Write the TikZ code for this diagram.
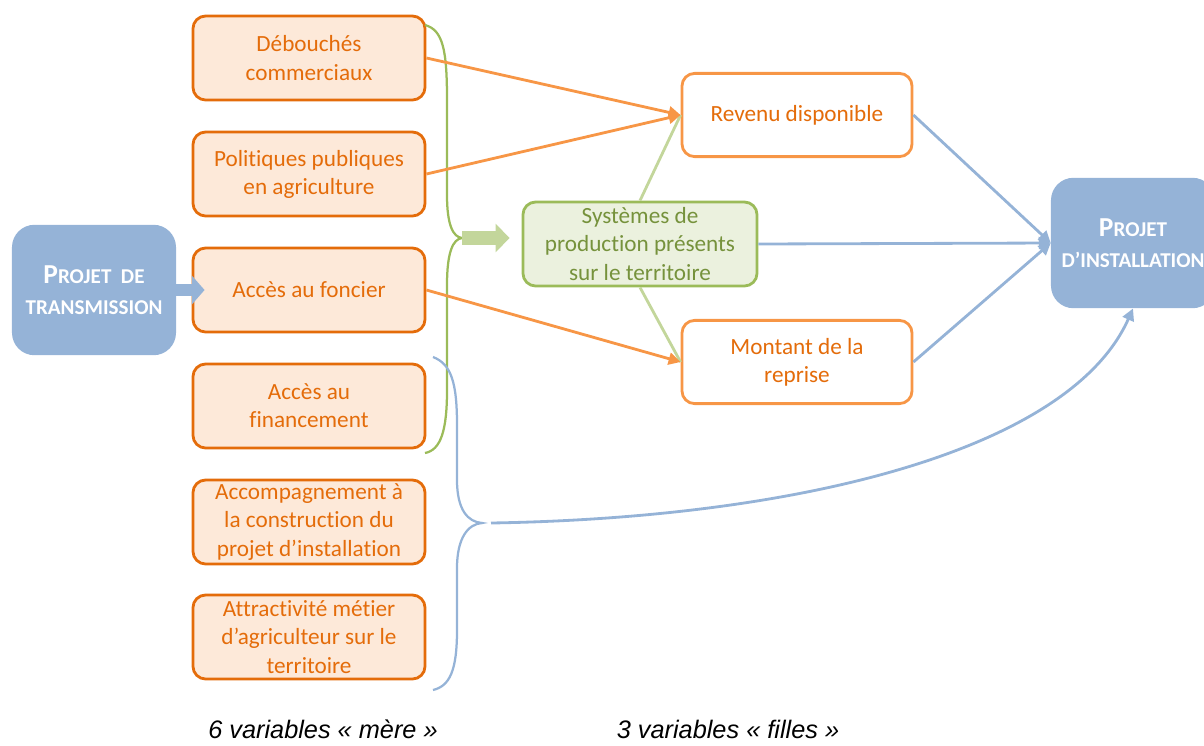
\documentclass[tikz,border=0pt]{standalone}
\usepackage{fontspec}
\setmainfont{Carlito}[Ligatures=NoCommon]
\newfontfamily\arialfont{Liberation Sans}
\usetikzlibrary{arrows.meta}
\definecolor{orfonce}{HTML}{E46C0A}
\definecolor{orclair}{HTML}{F79646}
\definecolor{orfond}{HTML}{FDE9D9}
\definecolor{bleu}{HTML}{95B3D7}
\definecolor{vert}{HTML}{9BBB59}
\definecolor{vertclair}{HTML}{C3D69B}
\definecolor{vertfond}{HTML}{EBF1DE}
\definecolor{vertfonce}{HTML}{76923C}
\newcommand\boxfont{\fontsize{16.5}{20}\selectfont}
\newcommand\petcap[1]{{\fontsize{15}{18}\selectfont #1}}
\tikzset{
  mere/.style={draw=orfonce, fill=orfond, line width=2pt, rounded corners=9pt,
    minimum width=5.8cm, minimum height=2.1cm, text=orfonce, align=center,
    font=\boxfont, inner sep=0pt},
  fille/.style={draw=orclair, fill=white, line width=2pt, rounded corners=9pt,
    minimum width=5.75cm, minimum height=2.08cm, text=orfonce, align=center,
    font=\boxfont, inner sep=0pt},
  projet/.style={fill=bleu, rounded corners=16pt, minimum width=4.1cm,
    minimum height=3.26cm, text=white, align=center,
    font=\bfseries\fontsize{19.5}{22.5}\selectfont, inner sep=0pt},
  fl/.style={line width=2pt, -{Triangle[length=8.5pt,width=8.5pt]}},
  legende/.style={font=\arialfont\itshape\fontsize{18}{21}\selectfont, inner sep=1pt}
}
\begin{document}
\begin{tikzpicture}[x=0.025cm, y=-0.025cm]
\useasboundingbox (0,0) rectangle (1204,745);
\clip (0,0) rectangle (1204,745);

% variables meres
\node[mere] (deb) at (309,58) {Débouchés\\commerciaux};
\node[mere] (pol) at (309,174) {Politiques publiques\\en agriculture};
\node[mere] (fonc) at (309,290) {Accès au foncier};
\node[mere] (fin) at (309,406) {Accès au\\financement};
\node[mere] (acc) at (309,522) {Accompagnement à\\la construction du\\projet d’installation};
\node[mere] (attr) at (309,637) {Attractivité métier\\d’agriculteur sur le\\territoire};

% projets
\node[projet] (trans) at (94,290) {P\petcap{ROJET~~DE}\\\petcap{TRANSMISSION}};
\node[projet] (inst) at (1133,243) {P\petcap{ROJET}\\\petcap{D’INSTALLATION}};

% variables filles
\node[fille] (rev) at (797,115) {Revenu disponible};
\node[fille] (mont) at (797,362) {Montant de la\\reprise};
\node[draw=vert, fill=vertfond, line width=2pt, rounded corners=9pt,
  minimum width=5.85cm, minimum height=2.1cm, text=vertfonce, align=center,
  font=\boxfont, inner sep=0pt] (sys) at (640,244)
  {Systèmes de\\production présents\\sur le territoire};

% accolades
\coordinate (gv) at (462,238);
\draw[vert, line width=1.6pt] (425,25) .. controls (443,30) and (447,50) .. (447,100)
  -- (447,195) .. controls (447,225) and (453,237) .. (gv)
  .. controls (453,239) and (447,252) .. (447,285)
  -- (447,390) .. controls (447,430) and (441,450) .. (425,453);
\coordinate (bl) at (482,523);
\draw[bleu, line width=1.6pt] (433,357) .. controls (451,364) and (457,382) .. (457,425)
  -- (457,480) .. controls (457,510) and (468,522) .. (bl)
  .. controls (468,524) and (457,538) .. (457,568)
  -- (457,630) .. controls (457,670) and (450,686) .. (433,690);

% grosses fleches
\draw[vertclair, line width=10pt, shorten >=0.3cm,
  -{Triangle[length=10pt,width=20pt]}] (gv) -- (gv -| sys.west);
\draw[bleu, line width=9pt, -{Triangle[length=9pt,width=20pt]}]
  (trans.east) -- ([xshift=13*0.025cm]fonc.west);

% liens
\draw[vertclair, line width=2pt] (sys.north) -- (rev.west);
\draw[vertclair, line width=2pt] (sys.south) -- (mont.west);
\draw[fl, orclair] (deb.east) -- (rev.west);
\draw[fl, orclair] (pol.east) -- (rev.west);
\draw[fl, orclair] (fonc.east) -- (mont.west);
\draw[fl, bleu] (rev.east) -- (inst.west);
\draw[fl, bleu] (sys.east) -- (inst.west);
\draw[fl, bleu] (mont.east) -- (inst.west);
\draw[fl, bleu] ([xshift=9*0.025cm]bl) .. controls (800,518) and (1070,450) .. (inst.south);

% legendes
\node[legende] (lmere) at (323,729) {6 variables « mère »};
\node[legende] (lfille) at (728,729) {3 variables « filles »};
\end{tikzpicture}
\end{document}
